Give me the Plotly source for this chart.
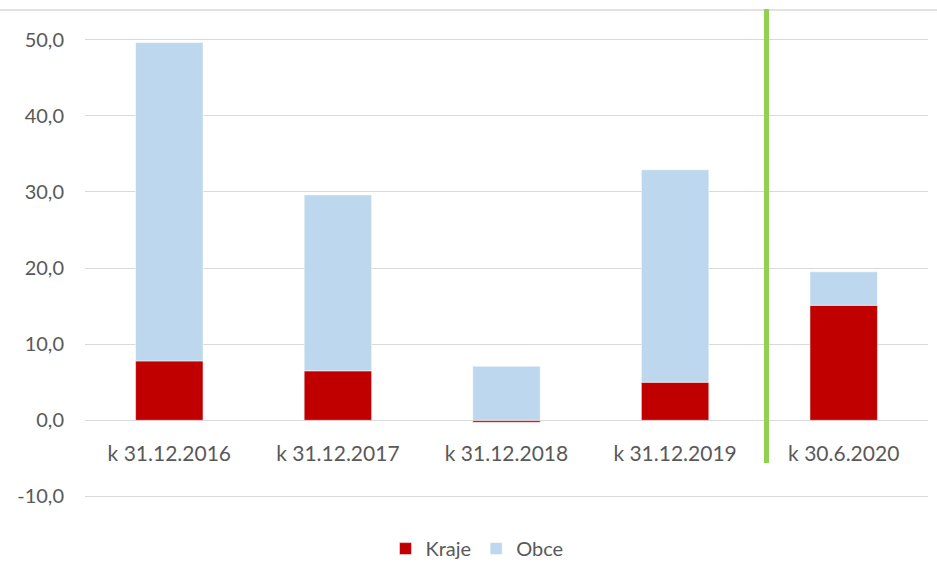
import plotly.graph_objects as go

categories = ["k 31.12.2016", "k 31.12.2017", "k 31.12.2018", "k 31.12.2019", "k 30.6.2020"]
kraje = [7.8, 6.5, -0.25, 5.0, 15.1]
obce = [41.8, 23.1, 7.1, 27.9, 4.4]
y_ticks = [-10, 0, 10, 20, 30, 40, 50]
y_tick_labels = ["-10,0", "0,0", "10,0", "20,0", "30,0", "40,0", "50,0"]

fig = go.Figure()
fig.add_trace(go.Bar(x=categories, y=kraje, name="Kraje", marker=dict(color="#C00000", line=dict(color="white", width=0.5)), width=0.4))
fig.add_trace(go.Bar(x=categories, y=obce, name="Obce", marker=dict(color="#BDD7EE", line=dict(color="white", width=0.5)), width=0.4))

font_fam = "Lato, 'Open Sans', sans-serif"
fs = 20
# plot area: y=50 at px 40, y=-10 at px 496 (7.6 px per unit)
fig.update_layout(
    barmode="relative",
    width=937, height=563,
    margin=dict(l=85, r=9, t=38, b=65, autoexpand=False),
    plot_bgcolor="white", paper_bgcolor="white",
    font=dict(family=font_fam, size=fs, color="#595959"),
    showlegend=True,
    legend=dict(orientation="h", x=0.465, xanchor="center", y=-0.11, yanchor="middle",
                font=dict(size=fs, color="#595959"), traceorder="normal"),
    xaxis=dict(showgrid=False, showline=False, ticks="", anchor="free", position=(77.5 / 460),
               automargin=False, ticklabelstandoff=18, tickfont=dict(size=21, color="#595959")),
    yaxis=dict(range=[-10.2, 50.2], tickvals=y_ticks, ticktext=y_tick_labels, showgrid=True,
               gridcolor="#D9D9D9", gridwidth=1, zeroline=False, showline=False, ticks="",
               automargin=False, ticklabelstandoff=20, tickfont=dict(size=fs, color="#595959")),
    shapes=[
        dict(type="line", xref="paper", yref="paper", x0=-0.1008, x1=1.0107, y0=(498 - 10) / 460, y1=(498 - 10) / 460,
             line=dict(color="#D9D9D9", width=1.5)),
        dict(type="line", xref="paper", yref="paper", x0=0.8084, x1=0.8084, y0=(498 - 463) / 460, y1=(498 - 9) / 460,
             line=dict(color="#92D050", width=5)),
    ],
)
fig.write_html("out.html", post_script="document.body.style.margin='0px';",
               config={"displayModeBar": False})
